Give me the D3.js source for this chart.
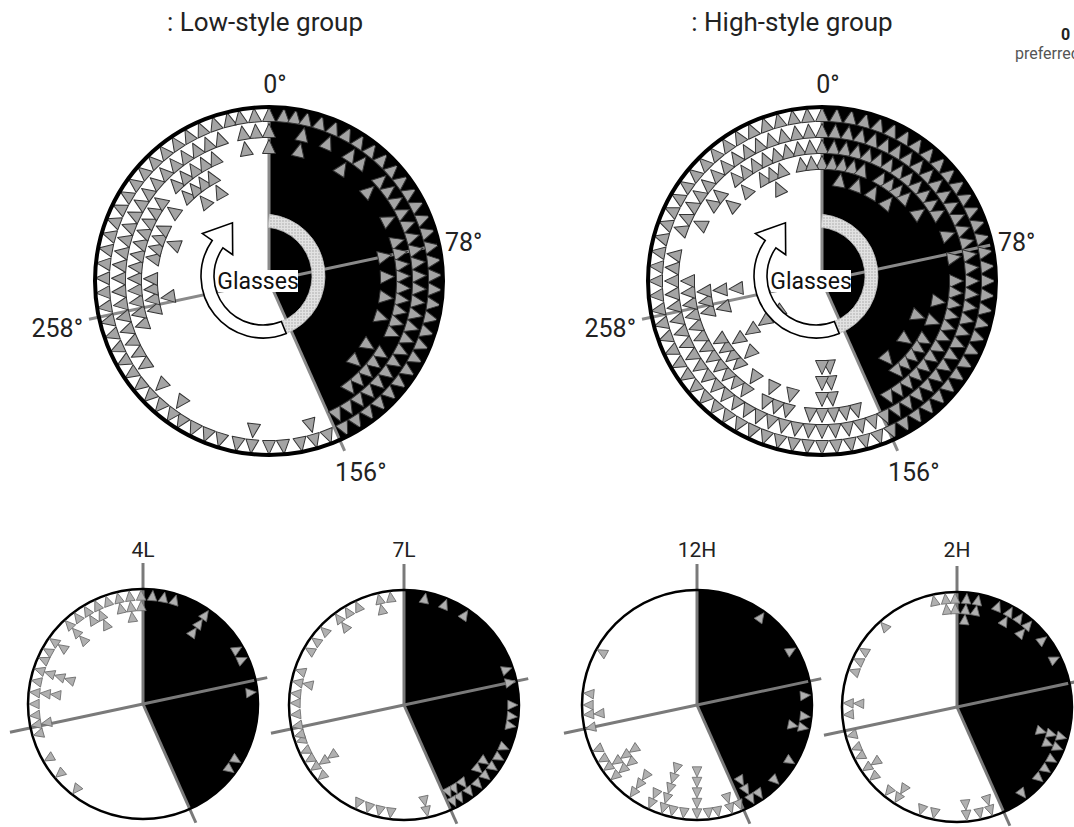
<!DOCTYPE html>
<html>
<head>
<meta charset="utf-8">
<script src="https://cdn.jsdelivr.net/npm/d3@7"></script>
<style>
  html, body { margin: 0; padding: 0; background: #fff; }
  svg { display: block; font-family: Roboto, "Noto Sans", sans-serif; }
</style>
</head>
<body>
<svg id="chart" width="1074" height="827"></svg>
<script>
// ---- data: [bearing in degrees, number of animals heading that way] ----
const lowStyleGroup = [
  [0,3],[5,1],[9,1],[13,3],[18,1],[23,2],[28,1],[33,3],[38,2],[43,1],[48,3],[53,2],
  [58,2],[63,3],[68,2],[73,3],[78,4],[83,3],[88,4],[93,3],[98,4],[103,3],[108,4],[113,3],
  [118,2],[123,4],[128,3],[133,4],[138,3],[143,3],[148,2],[153,2],
  [159,1],[164,2],[169,1],[175,1],[180,1],[186,2],[191,1],[197,1],[202,1],[207,1],
  [212,1],[216,2],[221,1],[226,2],[231,1],[236,2],[241,2],[246,2],[251,3],[256,4],
  [261,5],[266,4],[271,4],[276,3],[281,4],[286,4],[291,5],[296,4],[301,3],[306,4],
  [311,2],[316,4],[321,5],[326,4],[331,5],[336,3],[341,2],[346,1],[350,3],[355,2]
];
const highStyleGroup = [
  [0,4],[5,4],[10,5],[15,4],[20,5],[25,3],[30,5],[35,4],[40,5],[45,4],[50,3],[55,4],
  [60,3],[65,2],[70,3],[75,2],[80,3],[85,2],[90,3],[95,3],[100,4],[105,3],[110,5],[115,3],
  [120,4],[125,5],[130,4],[135,4],[140,5],[145,3],[150,3],[155,2],
  [160,2],[165,3],[170,3],[175,6],[180,6],[185,3],[190,2],[195,4],[200,3],[205,4],
  [210,2],[215,4],[220,3],[225,5],[230,4],[235,8],[240,4],[245,3],[250,3],[255,5],
  [260,4],[265,6],[270,3],[275,2],[280,2],[285,1],[290,2],[295,3],[300,2],[305,3],
  [310,4],[315,2],[320,4],[325,3],[330,4],[335,5],[340,4],[345,3],[350,4],[355,4]
];
const subject4L = [
  [5,1],[11,1],[17,1],[35,3],[60,1],[66,1],[84,1],[121,1],[127,1],
  [218,1],[230,1],[240,1],[254,1],[259,2],[264,1],[270,1],[276,3],[282,1],[288,4],
  [294,1],[299,1],[305,2],[317,3],[323,1],[329,2],[335,3],[341,1],[347,2],[353,3],[359,2]
];
const subject7L = [
  [11,1],[22,1],[34,1],[71,1],[78,1],[90,1],[96,1],[101,1],[113,1],[119,1],[125,2],
  [131,2],[137,1],[143,2],[149,2],[153,2],
  [168,2],[187,1],[193,1],[199,1],[205,1],[229,1],[235,3],[240,1],[245,1],[251,1],
  [254,1],[259,1],[265,1],[271,1],[276,1],[282,2],[288,1],[300,1],[306,1],[313,1],
  [323,2],[329,1],[335,1],[347,2],[353,1]
];
const subject12H = [
  [36,1],[60,1],[85,1],[96,1],[102,2],[121,1],[134,1],[145,1],[150,3],
  [157,1],[162,2],[169,1],[174,1],[180,5],[187,1],[193,1],[198,5],[205,2],[216,3],
  [229,3],[235,4],[240,1],[246,1],[258,1],[265,2],[270,1],[276,1],[299,1]
];
const subject2H = [
  [5,3],[11,2],[22,1],[29,2],[35,1],[41,2],[52,1],[64,1],[106,3],[112,2],[119,1],
  [125,1],[131,1],[143,1],
  [162,2],[168,1],[175,2],[192,1],[199,1],[213,2],[219,1],[230,1],[236,2],[243,1],
  [248,1],[255,1],[266,1],[272,2],[289,1],[295,1],[301,1],[318,1],[348,1],[354,2],[359,2]
];

const panelTitles = [": Low-style group", ": High-style group"];
const subjectLabels = ["4L", "7L", "12H", "2H"];
const referenceBearings = [0, 78, 156, 258];
const preferredSector = [0, 156];

// ---- helpers ----
const svg = d3.select("#chart");
const deg = d3.scaleLinear().domain([0, 360]).range([0, 2 * Math.PI]);
const pt = (r, b) => [r * Math.sin(deg(b)), -r * Math.cos(deg(b))];

// expand [bearing, count] into one record per triangle, stacked inward from the rim
function stack(data) {
  const out = [];
  data.forEach(([b, n]) => { for (let k = 0; k < n; k++) out.push({ b, k }); });
  return out;
}

// light grey grid texture for the arc of the glasses symbol
const defs = svg.append("defs");
const pat = defs.append("pattern").attr("id", "grid")
  .attr("width", 3).attr("height", 3).attr("patternUnits", "userSpaceOnUse");
pat.append("rect").attr("width", 3).attr("height", 3).attr("fill", "#c9c9c9");
pat.append("path").attr("d", "M0,0.5H3M0.5,0V3").attr("stroke", "#e2e2e2").attr("stroke-width", 1);

function drawDial(g, R, opt) {
  g.append("circle").attr("r", R).attr("fill", "#fff");
  g.append("path")
    .attr("d", d3.arc()({ innerRadius: 0, outerRadius: R,
      startAngle: deg(preferredSector[0]), endAngle: deg(preferredSector[1]) }))
    .attr("fill", "#000");
  // reference axes
  g.selectAll("line.axis").data(referenceBearings).join("line")
    .attr("class", "axis")
    .attr("x1", 0).attr("y1", 0)
    .attr("x2", (b, i) => pt(opt.axisLen[i], b)[0])
    .attr("y2", (b, i) => pt(opt.axisLen[i], b)[1])
    .attr("stroke", opt.axisColor).attr("stroke-width", opt.axisWidth);
}

function drawTriangles(g, data, ring, tri, style) {
  g.selectAll("path.tri").data(stack(data)).join("path")
    .attr("class", "tri")
    .attr("d", tri)
    .attr("transform", d => {
      const [x, y] = pt(ring(d.k), d.b);
      return `translate(${x},${y}) rotate(${d.b})`;
    })
    .attr("fill", style.fill).attr("stroke", style.stroke)
    .attr("stroke-width", style.width).attr("stroke-linejoin", "round");
}

// curved arrow of the glasses symbol
function arrowPath(ri, ro, a0, a1, flare, len) {
  const p = d3.path();
  const c = b => deg(b) - Math.PI / 2;
  const rm = (ri + ro) / 2;
  p.moveTo(...pt(ri, a0));
  p.lineTo(...pt(ro, a0));
  p.arc(0, 0, ro, c(a0), c(a1), false);
  const [mx, my] = pt(rm, a1);
  const t = [Math.cos(deg(a1)), Math.sin(deg(a1))];
  p.lineTo(...pt(rm + flare, a1));
  p.lineTo(mx + len * t[0], my + len * t[1]);
  p.lineTo(...pt(rm - flare, a1));
  p.lineTo(...pt(ri, a1));
  p.arc(0, 0, ri, c(a1), c(a0), true);
  p.closePath();
  return p.toString();
}

// ---- group panels ----
const bigR = 174;
const bigTri = "M0,-8.5L6.5,5.5L-6.5,5.5Z";
const bigRing = d3.scaleLinear().domain([0, 1]).range([165, 149]);
const groups = [
  { title: panelTitles[0], data: lowStyleGroup, cx: 269, cy: 281, tx: 265 },
  { title: panelTitles[1], data: highStyleGroup, cx: 822, cy: 281, tx: 792 }
];

groups.forEach(p => {
  svg.append("text").attr("x", p.tx).attr("y", 31)
    .attr("text-anchor", "middle").attr("font-size", 26).attr("fill", "#222")
    .text(p.title);

  const g = svg.append("g").attr("transform", `translate(${p.cx},${p.cy})`);
  drawDial(g, bigR, { axisLen: [bigR, bigR, 186, 184], axisColor: "#8a8a8a", axisWidth: 3 });
  drawTriangles(g, p.data, bigRing, bigTri, { fill: "#a4a4a4", stroke: "#333", width: 1 });

  // glasses symbol
  const gl = g.append("g").attr("transform", "translate(-6,-5)");
  gl.append("path")
    .attr("d", d3.arc()({ innerRadius: 49, outerRadius: 62, startAngle: deg(6), endAngle: deg(158) }))
    .attr("fill", "url(#grid)").attr("stroke", "#bdbdbd").attr("stroke-width", 0.8);
  gl.append("path")
    .attr("d", arrowPath(49, 62, 158, 305, 18.5, 26))
    .attr("fill", "#fff").attr("stroke", "#000").attr("stroke-width", 1.6)
    .attr("stroke-linejoin", "miter");
  g.append("rect").attr("x", -51).attr("y", -11).attr("width", 80).attr("height", 22)
    .attr("fill", "#fff");
  g.append("text").attr("x", -11).attr("y", 8).attr("text-anchor", "middle")
    .attr("font-size", 23).attr("fill", "#111").text("Glasses");

  g.append("circle").attr("r", bigR).attr("fill", "none")
    .attr("stroke", "#000").attr("stroke-width", 4);

  // bearing labels
  const lab = [
    { t: "0°", x: 6, y: -188, a: "middle" },
    { t: "78°", x: 176, y: -30, a: "start" },
    { t: "156°", x: 66, y: 200, a: "start" },
    { t: "258°", x: -186, y: 56, a: "end" }
  ];
  g.selectAll("text.deg").data(lab).join("text").attr("class", "deg")
    .attr("x", d => d.x).attr("y", d => d.y).attr("text-anchor", d => d.a)
    .attr("font-size", 25).attr("fill", "#222").text(d => d.t);
});

// corner note (runs off the page edge)
svg.append("text").attr("x", 1061).attr("y", 40).attr("font-size", 16)
  .attr("font-weight", "bold").attr("fill", "#222").text("0");
svg.append("text").attr("x", 1015).attr("y", 59).attr("font-size", 16)
  .attr("fill", "#555").text("preferred");

// ---- individual subjects ----
const smallR = 115;
const smallTri = "M0,-6L4.8,4.2L-4.8,4.2Z";
const smallRing = d3.scaleLinear().domain([0, 1]).range([108, 97.5]);
const subjects = [
  { label: subjectLabels[0], data: subject4L, cx: 143, cy: 704 },
  { label: subjectLabels[1], data: subject7L, cx: 404, cy: 705 },
  { label: subjectLabels[2], data: subject12H, cx: 697, cy: 705 },
  { label: subjectLabels[3], data: subject2H, cx: 957, cy: 707 }
];

subjects.forEach(p => {
  svg.append("text").attr("x", p.cx).attr("y", 557).attr("text-anchor", "middle")
    .attr("font-size", 21).attr("fill", "#222").text(p.label);
  const g = svg.append("g").attr("transform", `translate(${p.cx},${p.cy})`);
  drawDial(g, smallR, { axisLen: [141, 127, 130, 136], axisColor: "#7a7a7a", axisWidth: 3 });
  g.append("circle").attr("r", smallR).attr("fill", "none")
    .attr("stroke", "#000").attr("stroke-width", 2.5);
  drawTriangles(g, p.data, smallRing, smallTri, { fill: "#b0b0b0", stroke: "#6a6a6a", width: 0.8 });
});
</script>
</body>
</html>
